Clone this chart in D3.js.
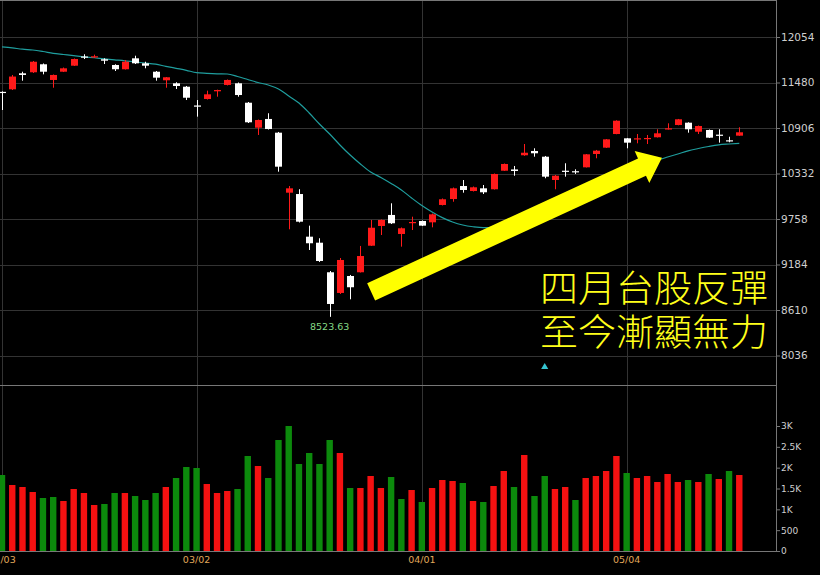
<!DOCTYPE html>
<html><head><meta charset="utf-8">
<script src="https://cdn.jsdelivr.net/npm/d3@7"></script>
<style>html,body{margin:0;padding:0;background:#000;overflow:hidden}svg{display:block}</style>
</head><body>
<svg id="c" width="820" height="575"></svg>
<script>
const dates = ["02/03","02/04","02/05","02/06","02/07","02/10","02/11","02/12","02/13","02/14","02/17","02/18","02/19","02/20","02/21","02/24","02/25","02/26","02/27",
"03/02","03/03","03/04","03/05","03/06","03/09","03/10","03/11","03/12","03/13","03/16","03/17","03/18","03/19","03/20","03/23","03/24","03/25","03/26","03/27","03/30","03/31",
"04/01","04/06","04/07","04/08","04/09","04/10","04/13","04/14","04/15","04/16","04/17","04/20","04/21","04/22","04/23","04/24","04/27","04/28","04/29","04/30",
"05/04","05/05","05/06","05/07","05/08","05/11","05/12","05/13","05/14","05/15","05/18","05/19"];
const opens = [11362,11394,11596,11609,11710,11512,11616,11692,11808,11798,
11773,11701,11647,11785,11722,11616,11508,11470,11427,11190,
11272,11369,11449,11470,11225,10910,11020,10847,10090,10073,
9535,9459,9086,8825,9039,9086,9421,9670,9809,9569,
9708,9733,9716,9935,10010,10174,10111,10145,10133,10367,
10383,10562,10616,10544,10250,10367,10361,10410,10578,10658,
10830,10776,10763,10767,10789,10890,10944,10973,10859,10881,
10822,10751,10809];
const highs = [11368,11575,11616,11751,11720,11581,11669,11783,11836,11831,
11785,11710,11764,11818,11742,11625,11549,11483,11436,11259,
11377,11390,11518,11480,11234,11013,11092,10856,10174,10133,
9674,9515,9102,9266,9052,9418,9746,9752,9956,9651,
9787,9739,9827,10017,10155,10250,10168,10187,10332,10458,
10427,10704,10650,10553,10313,10461,10385,10578,10629,10767,
11003,10780,10830,10818,10890,10965,11020,10978,10937,10887,
10890,10796,10915];
const lows = [11133,11385,11503,11600,11583,11414,11612,11688,11776,11789,
11713,11625,11644,11713,11659,11503,11414,11398,11259,11049,
11265,11301,11443,11301,10969,10818,10887,10355,9628,9714,
9367,9216,8523.63,8812,8745,9083,9418,9556,9695,9409,
9619,9670,9653,9929,9976,10090,10105,10073,10130,10364,
10304,10555,10544,10272,10133,10292,10326,10408,10524,10654,
10827,10650,10713,10704,10786,10887,10940,10847,10830,10780,
10721,10726,10807];
const closes = [11354,11555,11575,11742,11616,11575,11659,11776,11804,11811,
11755,11647,11742,11722,11692,11541,11546,11436,11288,11177,
11331,11385,11512,11322,10978,11007,10893,10418,10145,9724,
9452,9228,8686,9241,8897,9291,9648,9746,9704,9641,
9720,9674,9817,10007,10145,10124,10158,10095,10326,10452,
10364,10594,10587,10292,10304,10360,10354,10574,10620,10763,
10998,10721,10776,10780,10839,10902,11016,10890,10931,10784,
10814,10742,10852];
const volumes = [1824,1584,1536,1416,1272,1296,1200,1488,1392,1104,
1128,1392,1392,1320,1224,1392,1536,1752,2016,1992,
1608,1392,1440,1488,2280,2040,1752,2664,3000,2088,
2352,2088,2664,2352,1512,1512,1800,1512,1776,1248,
1464,1176,1512,1704,1680,1632,1200,1176,1560,1920,
1536,2304,1320,1800,1488,1536,1224,1752,1800,1920,
2280,1872,1752,1800,1656,1848,1656,1704,1656,1848,
1728,1920,1824];
const ma20 = [11930,11917,11900,11890,11871,11848,11833,11818,11804,11792,
11778,11766,11754,11739,11726,11711,11684,11659,11634,11604,
11596,11590,11587,11556,11518,11480,11449,11398,11310,11221,
11095,10957,10830,10692,10565,10452,10351,10282,10206,10124,
10023,9928,9846,9775,9720,9682,9660,9648,9655,9682,
9714,9783,9872,9960,10023,10080,10124,10168,10215,10263,
10313,10360,10408,10452,10500,10540,10578,10618,10647,10673,
10694,10704,10713];
const priorClose = 11495;
const priceTicks = [12054,11480,10906,10332,9758,9184,8610,8036];
const volTicks = [0,500,1000,1500,2000,2500,3000];
const volTickLabels = ["0","500","1K","1.5K","2K","2.5K","3K"];
const dateTicks = ["02/03","03/02","04/01","05/04"];
const lowDate = "03/19", lowValue = 8523.63;
const markerDate = "04/21";
// arrow ends given as (trading-day index, index value)
const arrowFrom = {pos:36.05, value:8840};
const arrowTo = {pos:64.45, value:10530};
const headline = ["四月台股反彈","至今漸顯無力"];

const svg = d3.select("#c");
svg.append("rect").attr("width",820).attr("height",575).attr("fill","#000");
const R = 776, priceBottom = 385, volBottom = 551;

const x = d3.scaleBand().domain(dates).range([-3.12, 744.4]).padding(0);
const cx = d => x(d) + x.bandwidth()/2;
const xi = d3.scaleLinear().domain([0, dates.length-1]).range([cx(dates[0]), cx(dates[dates.length-1])]);
const y = d3.scaleLinear().domain([8036,12054]).range([355.5,37]);
const yv = d3.scaleLinear().domain([0,3000]).range([volBottom,426]);

svg.append("defs").append("clipPath").attr("id","plot")
  .append("rect").attr("x",0).attr("y",0).attr("width",R).attr("height",volBottom);

const grid = svg.append("g");
const gc = "#333";
grid.selectAll(".hg").data(priceTicks).join("line")
  .attr("x1",0).attr("x2",R).attr("y1",d=>Math.round(y(d))+0.5).attr("y2",d=>Math.round(y(d))+0.5)
  .attr("stroke",gc);
grid.selectAll(".vg").data(dateTicks).join("line")
  .attr("x1",d=>Math.round(cx(d))+0.5).attr("x2",d=>Math.round(cx(d))+0.5).attr("y1",0).attr("y2",volBottom)
  .attr("stroke",gc);

// frame
const fc = "#777";
svg.append("line").attr("x1",0).attr("x2",R).attr("y1",0.5).attr("y2",0.5).attr("stroke",fc);
svg.append("line").attr("x1",0).attr("x2",R).attr("y1",priceBottom+0.5).attr("y2",priceBottom+0.5).attr("stroke",fc);
svg.append("line").attr("x1",0).attr("x2",R).attr("y1",volBottom+0.5).attr("y2",volBottom+0.5).attr("stroke",fc);
svg.append("line").attr("x1",R+0.5).attr("x2",R+0.5).attr("y1",0).attr("y2",volBottom).attr("stroke",fc);

// axes
const pa = svg.append("g").attr("transform",`translate(${R},0)`)
  .call(d3.axisRight(y).tickValues(priceTicks).tickSize(4).tickFormat(d3.format("d")));
const va = svg.append("g").attr("transform",`translate(${R},0)`)
  .call(d3.axisRight(yv).tickValues(volTicks).tickSize(4).tickFormat((d,i)=>volTickLabels[i]));
const xa = svg.append("g").attr("transform",`translate(0,${volBottom})`)
  .call(d3.axisBottom(x).tickValues(dateTicks).tickSize(0));
[pa,va,xa].forEach(g=>{g.select(".domain").remove(); g.selectAll("line").attr("stroke",fc);});
pa.selectAll("text").attr("fill","#cfcfcf").attr("font-family","DejaVu Sans, Verdana, sans-serif").attr("font-size","10.5px").attr("x",5);
va.selectAll("text").attr("fill","#cfcfcf").attr("font-family","DejaVu Sans, Verdana, sans-serif").attr("font-size","9px").attr("x",5);
xa.selectAll("text").attr("fill","#e0a85a").attr("font-family","DejaVu Sans, Verdana, sans-serif").attr("font-size","9.5px").attr("dy","0.9em");

const plot = svg.append("g").attr("clip-path","url(#plot)");
const data = dates.map((d,i)=>({d,o:opens[i],h:highs[i],l:lows[i],c:closes[i],v:volumes[i],
  up: closes[i] >= (i ? closes[i-1] : priorClose)}));
const RED = "#ff1a1a", WHITE = "#ffffff", VRED = "#f51111", VGREEN = "#0c8a0c";

// volume
plot.selectAll(".vol").data(data).join("rect")
  .attr("x",d=>cx(d.d)-3.2).attr("width",6.4)
  .attr("y",d=>yv(d.v)).attr("height",d=>yv(0)-yv(d.v))
  .attr("fill",d=>d.up?VRED:VGREEN);

// MA
plot.append("path").datum(data)
  .attr("d",d3.line().x(d=>cx(d.d)).y((d,i)=>y(ma20[i])).curve(d3.curveMonotoneX))
  .attr("fill","none").attr("stroke","#1f9e9e").attr("stroke-width",1.2);

// candles
const cg = plot.selectAll(".cd").data(data).join("g");
cg.append("line").attr("x1",d=>Math.round(cx(d.d))+0.5).attr("x2",d=>Math.round(cx(d.d))+0.5)
  .attr("y1",d=>y(d.h)).attr("y2",d=>y(d.l))
  .attr("stroke",d=>d.c>d.o?RED:WHITE).attr("stroke-width",1);
cg.append("rect").attr("x",d=>Math.round(cx(d.d))-3).attr("width",7)
  .attr("y",d=>y(Math.max(d.o,d.c))).attr("height",d=>Math.max(1.2,Math.abs(y(d.o)-y(d.c))))
  .attr("fill",d=>d.c>d.o?RED:WHITE);

// low label
svg.append("text").attr("x",cx(lowDate)).attr("y",y(lowValue)+13).attr("text-anchor","middle")
  .attr("fill","#86d986").attr("font-family","DejaVu Sans, Verdana, sans-serif").attr("font-size","9.5px")
  .text(lowValue.toFixed(2));

// marker
svg.append("path").attr("d",d3.symbol(d3.symbolTriangle,22)())
  .attr("transform",`translate(${cx(markerDate)},367)`).attr("fill","#35c4d0");

// arrow
(function(){
  const x0=xi(arrowFrom.pos), y0=y(arrowFrom.value), x1=xi(arrowTo.pos), y1=y(arrowTo.value);
  const dx=x1-x0, dy=y1-y0, L=Math.hypot(dx,dy), ux=dx/L, uy=dy/L, nx=-uy, ny=ux;
  const bw=9.5, hw=17.5, hl=22;
  const bx=x1-ux*hl, by=y1-uy*hl;
  const pts=[[x0+nx*bw,y0+ny*bw],[bx+nx*bw,by+ny*bw],[bx+nx*hw,by+ny*hw],[x1,y1],
             [bx-nx*hw,by-ny*hw],[bx-nx*bw,by-ny*bw],[x0-nx*bw,y0-ny*bw]];
  svg.append("path").attr("d",d3.line()(pts)+"Z").attr("fill","#ffff00");
})();

// headline
svg.selectAll(".hl").data(headline).join("text")
  .attr("x",540).attr("y",(d,i)=>302+i*44)
  .attr("fill","#ffff1a").attr("font-family","'Noto Sans CJK TC','Noto Sans CJK SC',sans-serif")
  .attr("font-weight",300).attr("font-size","37px").attr("textLength",228).attr("lengthAdjust","spacingAndGlyphs")
  .text(d=>d);
</script>
</body></html>
